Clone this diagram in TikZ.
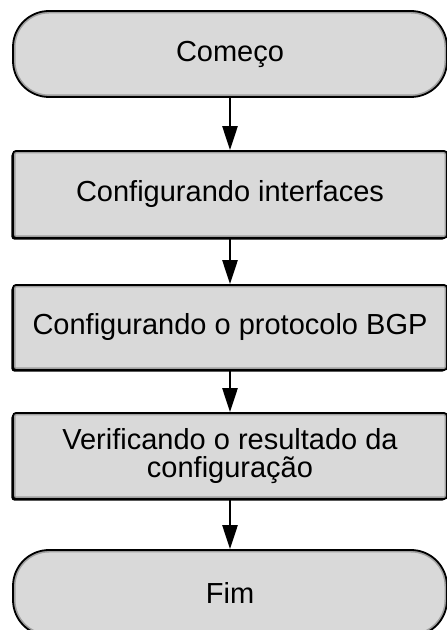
\documentclass[tikz,border=0pt]{standalone}
\usepackage{fontspec}
\setmainfont{Liberation Sans}
\usetikzlibrary{arrows.meta,shadows}
\definecolor{boxfill}{RGB}{217,217,217}
\definecolor{bandgray}{RGB}{160,160,160}
\tikzset{
  flowbox/.style={draw=black, line width=1.8pt, fill=boxfill, rounded corners=#1,
    minimum width=434pt, inner sep=0pt, align=center,
    font=\fontsize{29}{28}\selectfont,
    path picture={\draw[bandgray, line width=5pt, rounded corners=#1]
      (path picture bounding box.south west) rectangle (path picture bounding box.north east);}},
  termbox/.style={flowbox=36pt, minimum height=86pt},
  procbox/.style={flowbox=3pt,
    drop shadow={shadow xshift=-1.6pt, shadow yshift=-1.6pt, fill=black, opacity=1}},
  flowarrow/.style={line width=2.6pt, -{Triangle[length=24pt, width=15pt]}},
}
\begin{document}
\begin{tikzpicture}[x=1pt, y=1pt]
  \fill[white] (0,0) rectangle (447,630);
  \useasboundingbox (0,0) rectangle (447,630);
  \begin{scope}
  \clip (0,0) rectangle (447,630);
  \node[termbox] (start) at (230,576) {Começo};
  \node[procbox, minimum height=87pt] (iface) at (230,435.5) {Configurando interfaces};
  \node[procbox, minimum height=85pt] (bgp) at (230,302.5) {Configurando o protocolo BGP};
  \node[procbox, minimum height=86pt] (verify) at (230,174) {Verificando o resultado da\\configuração};
  \node[termbox] (finish) at (230,37) {Fim};
  \draw[flowarrow] (start.south) -- (iface.north);
  \draw[flowarrow] (iface.south) -- (bgp.north);
  \draw[flowarrow] (bgp.south) -- (verify.north);
  \draw[flowarrow] (verify.south) -- (finish.north);
  \end{scope}
\end{tikzpicture}
\end{document}
